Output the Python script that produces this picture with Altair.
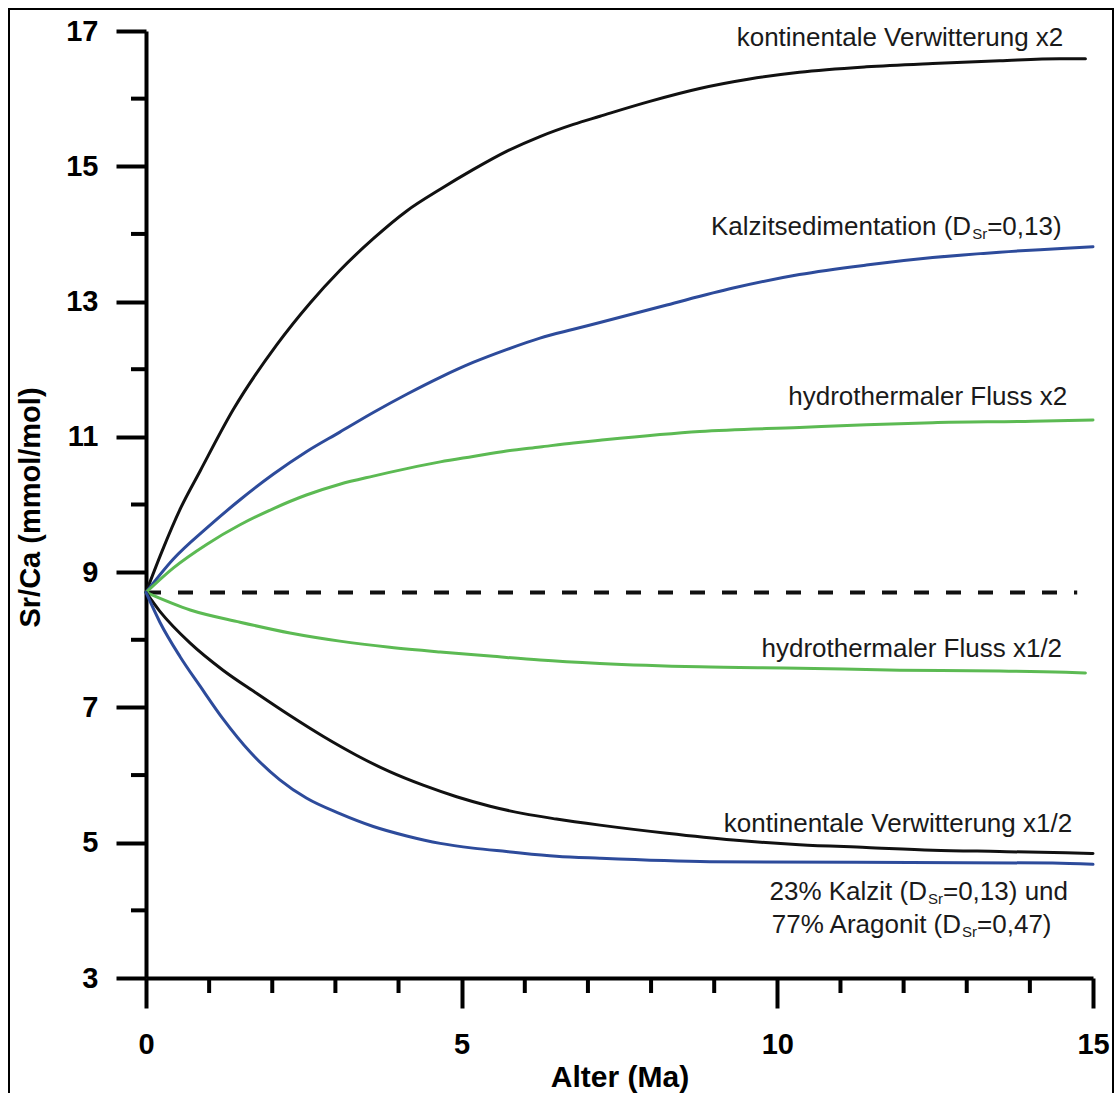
import altair as alt
import pandas as pd

# --- model curves: Sr/Ca of seawater (mmol/mol) vs. age (Ma) ---
t_kw2 = [0, 0.25, 0.55, 0.86, 1.38, 2.07, 2.60, 3.07, 3.60, 4.13, 4.66, 5.18, 5.71, 6.24, 6.77,
         7.19, 7.98, 8.77, 9.56, 10.35, 11.41, 12.46, 13.52, 14.47, 14.88]
v_kw2 = [8.70, 9.30, 9.95, 10.50, 11.40, 12.36, 12.98, 13.46, 13.93, 14.34, 14.66, 14.95, 15.22, 15.44, 15.62,
         15.74, 15.96, 16.15, 16.29, 16.39, 16.47, 16.52, 16.56, 16.59, 16.59]

t_cal = [0, 0.43, 0.96, 1.49, 2.02, 2.54, 3.07, 3.60, 4.13, 4.66, 5.18, 5.71, 6.24, 6.77,
         7.19, 8.25, 9.30, 10.35, 11.41, 12.46, 13.52, 14.57, 15.0]
v_cal = [8.70, 9.19, 9.65, 10.07, 10.45, 10.78, 11.07, 11.36, 11.63, 11.88, 12.10, 12.29, 12.46, 12.59,
         12.69, 12.95, 13.20, 13.40, 13.54, 13.65, 13.73, 13.79, 13.81]

t_hf2 = [0, 0.43, 0.96, 1.49, 2.02, 2.54, 3.07, 3.60, 4.13, 4.66, 5.18, 5.71, 6.24, 6.77,
         7.19, 8.77, 10.35, 11.41, 12.46, 14.04, 15.0]
v_hf2 = [8.70, 9.06, 9.41, 9.70, 9.94, 10.14, 10.30, 10.42, 10.53, 10.63, 10.71, 10.79, 10.85, 10.91,
         10.95, 11.08, 11.14, 11.18, 11.21, 11.23, 11.25]

t_hf05 = [0, 0.70, 1.49, 2.28, 3.07, 3.86, 4.66, 5.45, 6.24, 7.19, 8.77, 10.35, 11.94, 13.52, 14.57, 14.88]
v_hf05 = [8.70, 8.44, 8.26, 8.10, 7.98, 7.89, 7.82, 7.76, 7.70, 7.65, 7.60, 7.58, 7.55, 7.54, 7.52, 7.51]

t_kw05 = [0, 0.22, 0.70, 1.22, 1.75, 2.28, 2.81, 3.34, 3.86, 4.39, 4.92, 5.45, 5.98, 6.50,
          7.19, 8.25, 9.30, 10.35, 11.41, 12.46, 13.52, 14.57, 15.0]
v_kw05 = [8.70, 8.42, 7.95, 7.55, 7.21, 6.88, 6.57, 6.29, 6.05, 5.85, 5.68, 5.54, 5.43, 5.35,
          5.26, 5.14, 5.04, 4.97, 4.93, 4.89, 4.87, 4.85, 4.84]

t_mix = [0, 0.22, 0.54, 0.86, 1.22, 1.65, 2.12, 2.54, 3.07, 3.60, 4.13, 4.66, 5.18, 5.71, 6.50,
         7.19, 8.93, 14.36, 15.0]
v_mix = [8.70, 8.26, 7.75, 7.31, 6.83, 6.34, 5.93, 5.66, 5.43, 5.24, 5.10, 4.99, 4.92, 4.87, 4.80,
         4.77, 4.72, 4.70, 4.68]

# steady-state reference level
t_ref = [0, 14.75]
v_ref = [8.7, 8.7]

series_names = ["kw2", "cal", "hf2", "hf05", "kw05", "mix"]
series_t = [t_kw2, t_cal, t_hf2, t_hf05, t_kw05, t_mix]
series_v = [v_kw2, v_cal, v_hf2, v_hf05, v_kw05, v_mix]
series_colors = ["#111111", "#2d4b9b", "#5cba53", "#5cba53", "#111111", "#2d4b9b"]

# curve labels (right-aligned, no subscript)
plain_text = ["kontinentale Verwitterung x2", "hydrothermaler Fluss x2",
              "hydrothermaler Fluss x1/2", "kontinentale Verwitterung x1/2"]
plain_t = [14.53, 14.59, 14.51, 14.67]
plain_v = [16.78, 11.47, 7.75, 5.16]

# labels containing D_Sr: text before the subscript, text after it
sub_prefix = ["Kalzitsedimentation (D", "23% Kalzit (D", "77% Aragonit (D"]
sub_suffix = ["=0,13)", "=0,13) und", "=0,47)"]
sub_t = [13.07, 12.37, 12.91]
sub_v = [13.98, 4.15, 3.665]

y_minor = [4, 6, 8, 10, 12, 14, 16]
x_minor = [1, 2, 3, 4, 6, 7, 8, 9, 11, 12, 13, 14]

FONT = "Liberation Sans, Arial, sans-serif"
W = H = 947

rows = []
for name, ts, vs in zip(series_names, series_t, series_v):
    for i, (t, v) in enumerate(zip(ts, vs)):
        rows.append({"series": name, "t": t, "v": v, "i": i})
curves = pd.DataFrame(rows)

x_enc = alt.X(
    "t:Q",
    scale=alt.Scale(domain=[0, 15], nice=False, zero=False),
    axis=alt.Axis(
        values=[0, 5, 10, 15], title="Alter (Ma)", grid=False,
        domainColor="black", domainWidth=4, tickColor="black", tickWidth=4, tickSize=30,
        labelFont=FONT, labelFontSize=29, labelFontWeight="bold", labelColor="black",
        labelPadding=22, labelFlush=False, labelOverlap=False,
        titleFont=FONT, titleFontSize=30, titleFontWeight="bold", titleColor="black",
        titleBaseline="alphabetic", titleY=108,
    ),
)
y_enc = alt.Y(
    "v:Q",
    scale=alt.Scale(domain=[3, 17], nice=False, zero=False),
    axis=alt.Axis(
        values=[3, 5, 7, 9, 11, 13, 15, 17], title="Sr/Ca (mmol/mol)", grid=False,
        domainColor="black", domainWidth=4, tickColor="black", tickWidth=4, tickSize=30,
        labelFont=FONT, labelFontSize=29, labelFontWeight="bold", labelColor="black",
        labelPadding=18, labelFlush=False, labelOverlap=False,
        titleFont=FONT, titleFontSize=29, titleFontWeight="bold", titleColor="black",
        titleAngle=-90, titleBaseline="alphabetic", titleX=-107, titleY=476,
    ),
)

lines = alt.Chart(curves).mark_line(strokeWidth=3, strokeCap="round", interpolate="monotone").encode(
    x=x_enc, y=y_enc,
    color=alt.Color("series:N", scale=alt.Scale(domain=series_names, range=series_colors), legend=None),
    detail="series:N",
    order="i:Q",
)

ref = alt.Chart(pd.DataFrame({"t": t_ref, "v": v_ref})).mark_line(
    color="#111111", strokeWidth=4, strokeDash=[15, 17]
).encode(x=x_enc, y=y_enc)

minor_y_ticks = alt.Chart(pd.DataFrame({"v": y_minor})).mark_rule(
    color="black", strokeWidth=4
).encode(y=y_enc, x=alt.value(0), x2=alt.value(-15))

minor_x_ticks = alt.Chart(pd.DataFrame({"t": x_minor})).mark_rule(
    color="black", strokeWidth=4
).encode(x=x_enc, y=alt.value(H), y2=alt.value(H + 15))

plain = alt.Chart(pd.DataFrame({"t": plain_t, "v": plain_v, "label": plain_text})).mark_text(
    align="right", baseline="alphabetic", font=FONT, fontSize=26, color="#1a1a1a"
).encode(x=x_enc, y=y_enc, text="label:N")

sub_df = pd.DataFrame({"t": sub_t, "v": sub_v, "pre": sub_prefix, "post": sub_suffix})
sub_pre = alt.Chart(sub_df).mark_text(
    align="right", baseline="alphabetic", font=FONT, fontSize=26, color="#1a1a1a"
).encode(x=x_enc, y=y_enc, text="pre:N")
sub_sr = alt.Chart(sub_df).mark_text(
    align="left", baseline="alphabetic", font=FONT, fontSize=15, color="#1a1a1a", dx=1, dy=4
).encode(x=x_enc, y=y_enc, text=alt.value("Sr"))
sub_post = alt.Chart(sub_df).mark_text(
    align="left", baseline="alphabetic", font=FONT, fontSize=26, color="#1a1a1a", dx=16
).encode(x=x_enc, y=y_enc, text="post:N")

frame = alt.Chart(pd.DataFrame({"k": [0]})).mark_rect(
    filled=False, stroke="black", strokeWidth=2
).encode(x=alt.value(-137), x2=alt.value(967), y=alt.value(-22), y2=alt.value(1090))

chart = alt.layer(
    frame, minor_y_ticks, minor_x_ticks, ref, lines, plain, sub_pre, sub_sr, sub_post
).properties(
    width=W, height=H,
    autosize=alt.AutoSizeParams(type="none"),
    padding={"left": 146, "top": 31, "right": 23, "bottom": 115},
    background="white",
).configure_view(stroke=None)

chart.save("out.html", embed_options={"renderer": "svg", "actions": False})
